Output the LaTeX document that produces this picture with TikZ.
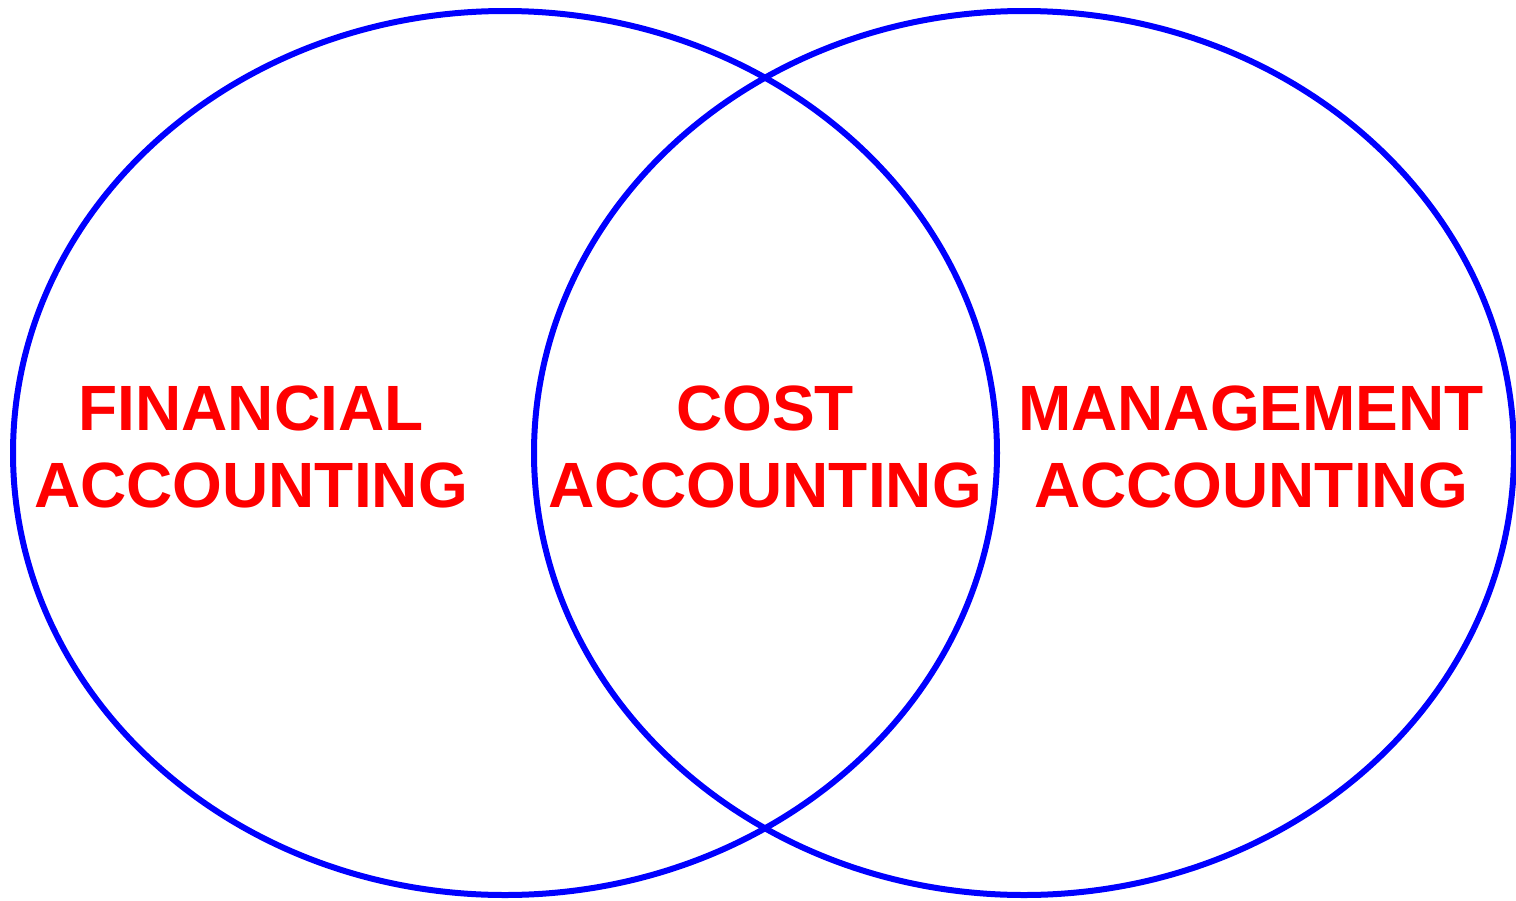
\documentclass[tikz,border=0pt]{standalone}
\usepackage{fontspec}
\setmainfont{Liberation Sans}
\begin{document}
\begin{tikzpicture}[x=1pt, y=-1pt, line join=round, line cap=round,
    ring/.style={draw=blue, line width=6pt},
    area/.style={text=red, align=center, inner sep=0pt, font=\fontsize{64}{77}\selectfont\bfseries}]
    \useasboundingbox (0,0) rectangle (1516,900);
    % the two sets
    \draw[ring] (505,453) ellipse [x radius=492, y radius=442];
    \draw[ring] (1024,453) ellipse [x radius=490, y radius=442];
    % labels
    \node[area] (fin) at (251,447) {FINANCIAL\\ACCOUNTING};
    \node[area] (cost) at (765,447) {COST\\ACCOUNTING};
    \node[area] (man) at (1251,447) {MANAGEMENT\\ACCOUNTING};
\end{tikzpicture}
\end{document}
